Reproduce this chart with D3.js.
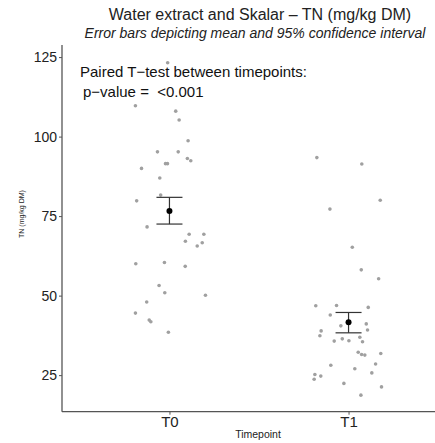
<!DOCTYPE html>
<html>
<head>
<meta charset="utf-8">
<script src="https://cdn.jsdelivr.net/npm/d3@7"></script>
<style>
  body { margin: 0; background: #fff; }
  svg { display: block; font-family: "Liberation Sans", Arial, sans-serif; }
</style>
</head>
<body>
<div id="chart"></div>
<script>
// TN by timepoint, jittered points + mean and 95% CI
const timepoints = ["T0", "T1"];

const t0Values = [123.2, 109.7, 108, 105.2, 98.7, 95.2, 95.2, 93.1, 92.4, 91.5, 91.5, 90, 87, 79.8, 81.6,
  71.6, 69.3, 69.3, 67.1, 66.6, 65.6, 60, 60.4, 59.2, 53.2, 50.9, 50.1, 48, 44.5, 42.3, 41.8, 38.5];
const t0Jitter = [-0.01, -0.19, 0.035, 0.054, 0.104, -0.067, 0.049, 0.1, 0.119, -0.022, -0.011, -0.156, -0.054, -0.183, -0.049,
  -0.125, 0.11, 0.192, 0.089, 0.183, 0.155, -0.188, -0.028, 0.088, -0.058, -0.026, 0.201, -0.127, -0.19, -0.113, -0.104, -0.006];

const t1Values = [93.4, 91.4, 80, 77.2, 65.2, 58.1, 55.3, 46.8, 46.9, 46.3, 43.9, 40.5, 41.1, 39.2, 38.9, 37.4, 35.7, 36.4,
  35.8, 36.9, 35.5, 32.2, 31.5, 31.3, 31.8, 28.1, 28.5, 27, 25.7, 25.2, 23.7, 24.7, 22.4, 21.3, 18.7];
const t1Jitter = [-0.177, 0.074, 0.177, -0.104, 0.021, 0.071, 0.168, -0.183, -0.067, 0.11, -0.102, -0.043, 0.099, 0.106, -0.153, -0.16, -0.08, -0.035,
  0.002, 0.063, 0.078, 0.054, 0.073, 0.091, 0.18, -0.099, 0.151, 0.035, 0.13, -0.188, -0.192, -0.155, -0.026, 0.184, 0.069];

const means = [76.6, 41.6];
const ciLow = [72.5, 38.3];
const ciHigh = [80.9, 44.7];

const yTicks = [25, 50, 75, 100, 125];

const W = 435, H = 443;
const mLeft = 62, mBottom = 411.7, mTop = 45, mRight = 456;

const svg = d3.select("#chart").append("svg").attr("width", W).attr("height", H);

const x = d3.scalePoint().domain(timepoints).range([mLeft, mRight]).padding(0.6);
const step = x("T1") - x("T0");
const y = d3.scaleLinear().domain([13.5, 128.8]).range([mBottom, mTop]);

// Titles
svg.append("text").attr("x", 260).attr("y", 20).attr("text-anchor", "middle")
  .attr("font-size", "16px").attr("fill", "#222").text("Water extract and Skalar \u2013 TN (mg/kg DM)");
svg.append("text").attr("x", 255).attr("y", 38).attr("text-anchor", "middle")
  .attr("font-size", "14px").attr("font-style", "italic").attr("fill", "#222")
  .text("Error bars depicting mean and 95% confidence interval");

// Points
const pts = [];
t0Values.forEach((v, i) => pts.push({cat: "T0", v: v, j: t0Jitter[i]}));
t1Values.forEach((v, i) => pts.push({cat: "T1", v: v, j: t1Jitter[i]}));
svg.append("g").selectAll("circle").data(pts).enter().append("circle")
  .attr("cx", d => x(d.cat) + d.j * step)
  .attr("cy", d => y(d.v))
  .attr("r", 1.8)
  .attr("fill", "#a0a0a0");

// Error bars + means
const eb = svg.append("g").attr("stroke", "#333").attr("stroke-width", 1.2);
timepoints.forEach((c, i) => {
  const cx = x(c), hw = 13;
  eb.append("line").attr("x1", cx).attr("x2", cx).attr("y1", y(ciLow[i])).attr("y2", y(ciHigh[i]));
  eb.append("line").attr("x1", cx - hw).attr("x2", cx + hw).attr("y1", y(ciLow[i])).attr("y2", y(ciLow[i]));
  eb.append("line").attr("x1", cx - hw).attr("x2", cx + hw).attr("y1", y(ciHigh[i])).attr("y2", y(ciHigh[i]));
});
svg.append("g").selectAll("circle").data(timepoints).enter().append("circle")
  .attr("cx", d => x(d)).attr("cy", (d, i) => y(means[i])).attr("r", 3).attr("fill", "#000");

// Axes
const yAxis = svg.append("g").attr("transform", `translate(${mLeft},0)`)
  .call(d3.axisLeft(y).tickValues(yTicks).tickSize(3).tickPadding(2));
const xAxis = svg.append("g").attr("transform", `translate(0,${mBottom})`)
  .call(d3.axisBottom(x).tickSize(3).tickPadding(2));
[yAxis, xAxis].forEach(a => {
  a.select(".domain").attr("stroke", "#555").attr("stroke-width", 1.3);
  a.selectAll(".tick line").attr("stroke", "#555");
  a.selectAll(".tick text").attr("fill", "#222")
    .attr("font-family", "Liberation Sans, Arial, sans-serif");
});
yAxis.selectAll(".tick text").attr("font-size", "14px");
xAxis.selectAll(".tick text").attr("font-size", "15px");
yAxis.select(".domain").attr("d", `M0,${mBottom}V${mTop}`);
xAxis.select(".domain").attr("d", `M${mLeft},0H${W}`);

// Axis titles
svg.append("text").attr("x", 258).attr("y", 438).attr("text-anchor", "middle")
  .attr("font-size", "10.5px").attr("fill", "#222").text("Timepoint");
svg.append("text").attr("transform", "translate(24,214) rotate(-90)").attr("text-anchor", "middle")
  .attr("font-size", "7px").attr("fill", "#222").text("TN (mg/kg DM)");

// Annotation
svg.append("text").attr("x", 80).attr("y", 77).attr("font-size", "15px").attr("fill", "#111")
  .text("Paired T\u2212test between timepoints:");
svg.append("text").attr("x", 83).attr("y", 97).attr("font-size", "15px").attr("fill", "#111")
  .style("white-space", "pre").text("p\u2212value =  <0.001");
</script>
</body>
</html>
